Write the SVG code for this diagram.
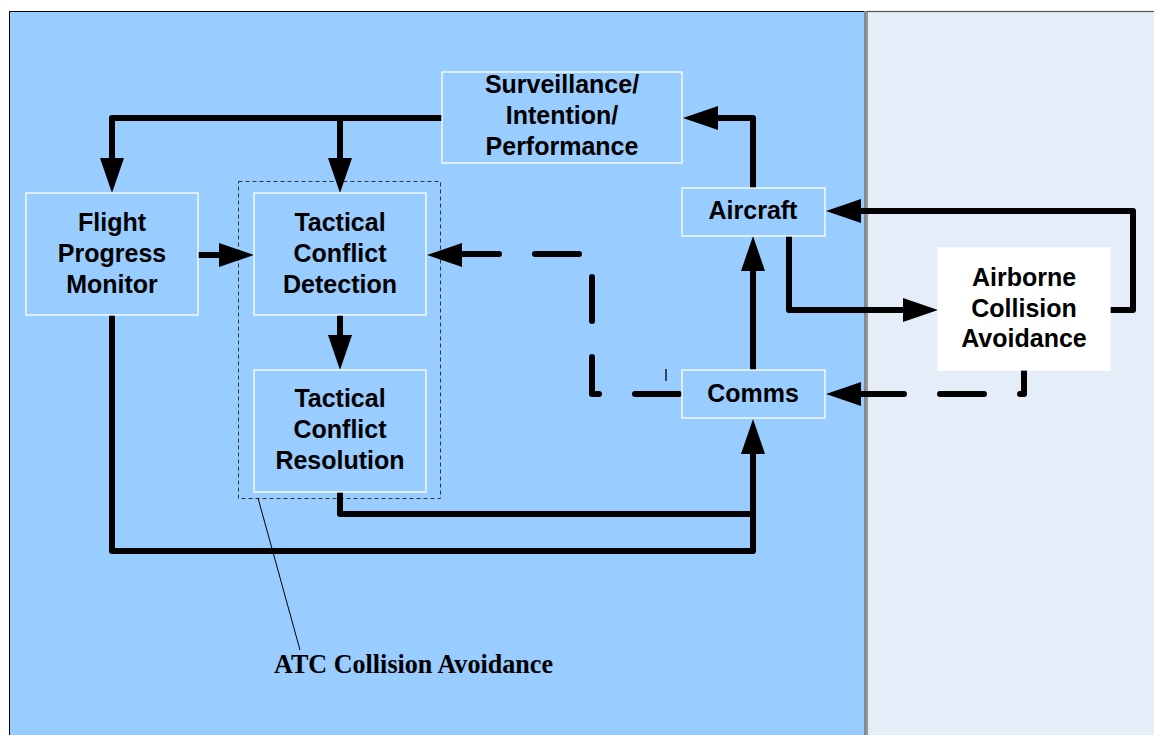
<svg xmlns="http://www.w3.org/2000/svg" width="1154" height="735" viewBox="0 0 1154 735">
<defs>
<style>
.node rect{fill:#99CCFF;stroke:#ffffff;stroke-width:1.3}
.node text{font-family:"Liberation Sans",Arial,sans-serif;font-weight:bold;font-size:25px;fill:#000;text-anchor:middle}
.ln{fill:none;stroke:#000;stroke-width:6;stroke-linecap:round;stroke-linejoin:round}
.dash{stroke-dasharray:44 36}
.ah{fill:#000}
</style>
</defs>
<rect x="0" y="0" width="1154" height="735" fill="#ffffff"/>
<rect x="9.5" y="11.5" width="855" height="740" fill="#99CCFF" stroke="#000" stroke-width="1"/>
<rect x="867" y="11.5" width="300" height="740" fill="#E5EDF8" stroke="#555" stroke-width="1.2"/>
<line x1="865" y1="11" x2="865" y2="735" stroke="#888" stroke-width="2"/>

<g id="atc-group">
<rect x="238.5" y="181.5" width="202" height="317" fill="none" stroke="#333" stroke-width="1" stroke-dasharray="4 3"/>
<line x1="258" y1="498" x2="300" y2="650" stroke="#000" stroke-width="1"/>
<text x="274" y="673" font-family="Liberation Serif,'Times New Roman',serif" font-weight="bold" font-size="27" textLength="279" lengthAdjust="spacingAndGlyphs">ATC Collision Avoidance</text>
</g>

<g id="connectors">
<path class="ln" d="M442,118 H112 V160"/>
<polygon class="ah" points="100,158 124,158 112,193"/>
<path class="ln" d="M340,118 V160"/>
<polygon class="ah" points="328,158 352,158 340,193"/>
<path class="ln" d="M197,255 H222"/>
<polygon class="ah" points="219,243 219,267 254,255"/>
<path class="ln" d="M340,317 V337"/>
<polygon class="ah" points="328,335 352,335 340,370"/>
<path class="ln dash" d="M679,394 H592 V254 H460"/>
<polygon class="ah" points="462,243 462,267 427,255"/>
<path class="ln" d="M753,370 V268"/>
<polygon class="ah" points="741,271 765,271 753,236"/>
<path class="ln" d="M753,188 V118 H714"/>
<polygon class="ah" points="718,106 718,130 683,118"/>
<path class="ln" d="M789,236 V310 H906"/>
<polygon class="ah" points="903,298 903,322 938,310"/>
<path class="ln" d="M1110,310 H1133 V211 H858"/>
<polygon class="ah" points="861,199 861,223 826,211"/>
<path class="ln dash" stroke-dashoffset="17" d="M1024,371 V394 H858"/>
<polygon class="ah" points="861,382 861,406 826,394"/>
<path class="ln" d="M340,492 V514 H753"/>
<path class="ln" d="M112,317 V551 H753 V450"/>
<polygon class="ah" points="741,454 765,454 753,419"/>
<line x1="666" y1="369" x2="666" y2="381" stroke="#000" stroke-width="1.3"/>
</g>

<g id="surveillance" class="node">
<rect x="442" y="72" width="240" height="91"/>
<text x="562" y="93">Surveillance/</text>
<text x="562" y="124">Intention/</text>
<text x="562" y="155">Performance</text>
</g>
<g id="aircraft" class="node">
<rect x="682" y="188" width="143" height="48"/>
<text x="753" y="219">Aircraft</text>
</g>
<g id="fpm" class="node">
<rect x="26" y="193" width="172" height="122"/>
<text x="112" y="231">Flight</text>
<text x="112" y="262">Progress</text>
<text x="112" y="293">Monitor</text>
</g>
<g id="tcd" class="node">
<rect x="254" y="193" width="172" height="122"/>
<text x="340" y="231">Tactical</text>
<text x="340" y="262">Conflict</text>
<text x="340" y="293">Detection</text>
</g>
<g id="tcr" class="node">
<rect x="254" y="370" width="172" height="122"/>
<text x="340" y="407">Tactical</text>
<text x="340" y="438">Conflict</text>
<text x="340" y="469">Resolution</text>
</g>
<g id="comms" class="node">
<rect x="682" y="370" width="143" height="48"/>
<text x="753" y="402">Comms</text>
</g>
<g id="aca" class="node">
<rect x="938" y="248" width="172" height="122" style="fill:#ffffff;stroke:#ffffff"/>
<text x="1024" y="286">Airborne</text>
<text x="1024" y="317">Collision</text>
<text x="1024" y="347">Avoidance</text>
</g>
</svg>
